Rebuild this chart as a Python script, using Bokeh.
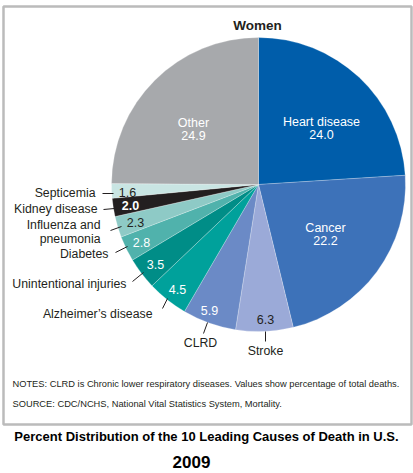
import math
from bokeh.plotting import figure
from bokeh.models import Range1d, ColumnDataSource, BoxAnnotation
from bokeh.core.properties import value
from bokeh.embed import file_html
from bokeh.resources import INLINE

# ---- data ----
causes = ["Heart disease", "Cancer", "Stroke", "CLRD", "Alzheimer\u2019s disease",
          "Unintentional injuries", "Diabetes", "Influenza and\npneumonia",
          "Kidney disease", "Septicemia", "Other"]
percents = [24.0, 22.2, 6.3, 5.9, 4.5, 3.5, 2.8, 2.3, 2.0, 1.6, 24.9]
colors = ["#005DAA", "#3D72B9", "#9BAAD8", "#6B8AC6", "#00A19B", "#008D87",
          "#50B2AC", "#8ECAC6", "#231F20", "#C9E5E3", "#A7A9AC"]
value_colors = ["white", "white", "#231F20", "white", "white", "white",
                "white", "#231F20", "white", "#231F20", "white"]

title_top = "Women"
notes = "NOTES: CLRD is Chronic lower respiratory diseases. Values show percentage of total deaths."
source_txt = "SOURCE: CDC/NCHS, National Vital Statistics System, Mortality."
title_bottom = "Percent Distribution of the 10 Leading Causes of Death in U.S."
year = "2009"

W, H = 413, 473
def Y(py):
    return H - py

FONT = value("Liberation Sans")
DARK = "#231F20"

p = figure(width=W, height=H, x_range=Range1d(0, W), y_range=Range1d(0, H),
           output_backend="svg", toolbar_location=None, min_border=0)
p.axis.visible = False
p.grid.visible = False
p.outline_line_color = None
p.background_fill_color = "white"
p.border_fill_color = "white"

# ---- pie ----
cx, cy, R = 258, 184, 147
total = sum(percents)
starts, ends = [], []
cum = 0.0
for v in percents:
    starts.append(math.pi / 2 - 2 * math.pi * cum / total)
    cum += v
    ends.append(math.pi / 2 - 2 * math.pi * cum / total)
src = ColumnDataSource(dict(start=starts, end=ends, color=colors))
p.wedge(x=cx, y=Y(cy), radius=R, start_angle="start", end_angle="end",
        direction="clock", fill_color="color", line_color="white",
        line_width=0.4, line_alpha=0.6, source=src)

# ---- value labels (layout positions in pixels) ----
val_pos = [(321, 134), (325, 240), (265, 319), (209, 310), (177, 289),
           (155, 264), (141, 242), (135, 222), (130, 205), (127, 192), (193, 135)]
name_inside = {0: (321, 121), 1: (325, 227), 10: (193, 122)}
for i, v in enumerate(percents):
    x, y = val_pos[i]
    p.text(x=[x], y=[Y(y)], text=[f"{v:.1f}"], text_font=FONT,
           text_font_size="12.5px", text_color=value_colors[i],
           text_font_style="bold" if causes[i] == "Kidney disease" else "normal",
           text_align="center", text_baseline="middle")
    if i in name_inside:
        nx, ny = name_inside[i]
        p.text(x=[nx], y=[Y(ny)], text=[causes[i]], text_font=FONT,
               text_font_size="12.5px", text_color="white",
               text_align="center", text_baseline="middle")

# ---- outside labels with leaders ----
out_labels = {
    2: ((265, 350), "center", ((265, 331), (265, 341))),
    3: ((200, 342), "center", ((207, 322), (203, 333))),
    4: ((152, 313), "right", ((167, 298), (162, 308))),
    5: ((126, 283), "right", ((143, 272), (132, 281))),
    6: ((108, 253), "right", ((127, 246), (115, 252))),
    7: ((100, 231), "right", ((121, 226), (110, 230))),
    8: ((97, 208), "right", ((114, 208), (103, 209))),
    9: ((95, 192), "right", ((113, 193), (102, 193))),
}
for i, ((lx, ly), al, ((x0, y0), (x1, y1))) in out_labels.items():
    lines = causes[i].split("\n")
    n = len(lines)
    for k, line in enumerate(lines):
        yy = ly + (k - (n - 1) / 2) * 14
        p.text(x=[lx], y=[Y(yy)], text=[line], text_font=FONT,
               text_font_size="12.3px", text_color=DARK,
               text_align=al, text_baseline="middle")
    p.segment(x0=[x0], y0=[Y(y0)], x1=[x1], y1=[Y(y1)], line_color=DARK, line_width=1)

# ---- titles & notes ----
p.text(x=[257], y=[Y(25)], text=[title_top], text_font=FONT, text_font_size="13.5px",
       text_font_style="bold", text_color=DARK, text_align="center", text_baseline="middle")
p.text(x=[12], y=[Y(383)], text=[notes], text_font=FONT, text_font_size="9.3px",
       text_color=DARK, text_align="left", text_baseline="middle")
p.text(x=[12], y=[Y(403)], text=[source_txt], text_font=FONT, text_font_size="9.3px",
       text_color=DARK, text_align="left", text_baseline="middle")
p.text(x=[206], y=[Y(436)], text=[title_bottom], text_font=FONT,
       text_font_size="13px", text_font_style="bold", text_color="black",
       text_align="center", text_baseline="middle")
p.text(x=[191], y=[Y(461)], text=[year], text_font=FONT,
       text_font_size="17px", text_font_style="bold", text_color="black",
       text_align="center", text_baseline="middle")

# ---- frame ----
p.add_layout(BoxAnnotation(left=3, right=411, top=Y(6), bottom=Y(424),
                           fill_alpha=0, line_color="#1E1E1E", line_width=2.5))

open("out.html", "w").write(file_html(p, INLINE))
